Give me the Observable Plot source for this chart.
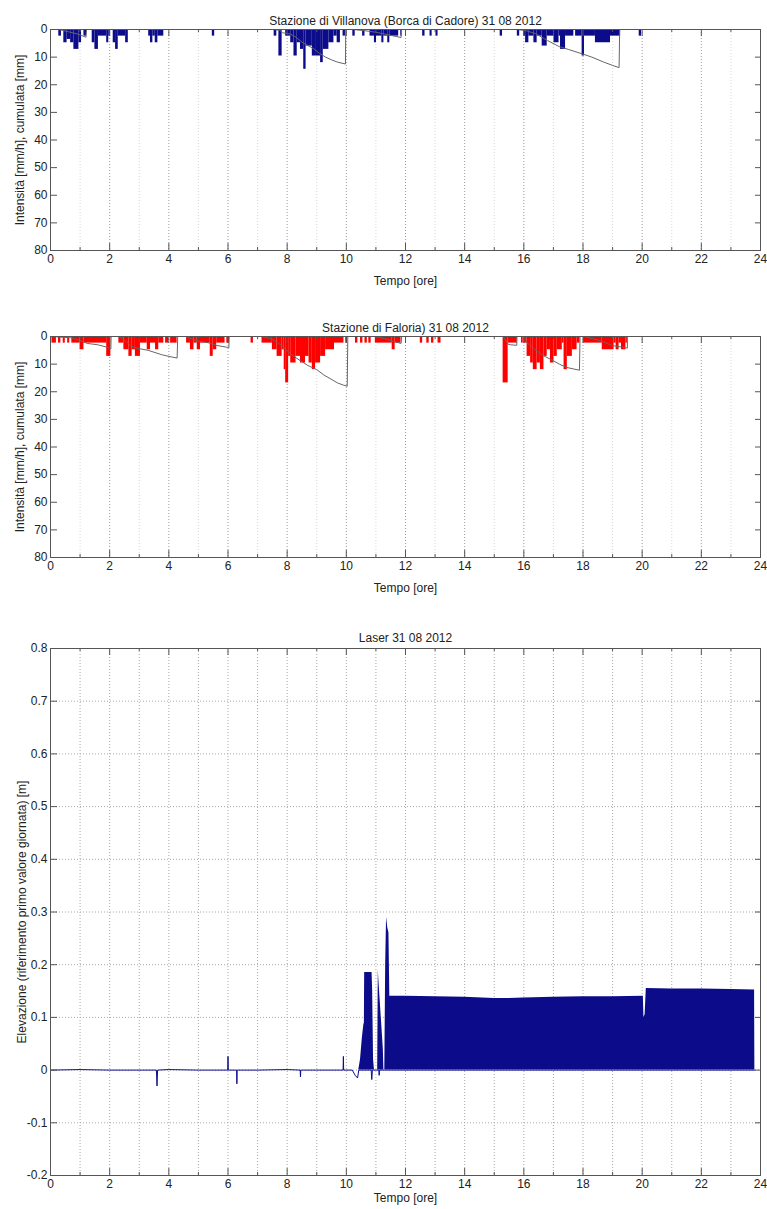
<!DOCTYPE html>
<html><head><meta charset="utf-8">
<script src="https://cdn.jsdelivr.net/npm/d3@7"></script>
<script src="https://cdn.jsdelivr.net/npm/@observablehq/plot@0.6"></script>
<style>
body{margin:0;background:#fff;}
#chart svg{display:block;}
</style></head><body><div id="chart"></div>
<script>
// ---------- tick arrays ----------
const hourTicks = [0,2,4,6,8,10,12,14,16,18,20,22,24];
const hourMinor = [1,3,5,7,9,11,13,15,17,19,21,23];
const rainTicks = [0,10,20,30,40,50,60,70,80];
const laserTicks = [-0.2,-0.1,0,0.1,0.2,0.3,0.4,0.5,0.6,0.7,0.8];
const laserTickLabels = ["-0.2","-0.1","0","0.1","0.2","0.3","0.4","0.5","0.6","0.7","0.8"];

// ---------- titles / labels ----------
const titles = ["Stazione di Villanova (Borca di Cadore) 31 08 2012", "Stazione di Faloria) 31 08 2012", "Laser 31 08 2012"];
const xLabel = "Tempo [ore]";
const rainLabel = "Intensità [mm/h], cumulata [mm]";
const laserLabel = "Elevazione (riferimento primo valore giornata) [m]";

// ---------- Villanova bars: [start h, end h, mm/h] ----------
const villanovaBars = [
 [0.28,0.37,2.4],[0.45,0.56,4.8],[0.56,0.68,3.6],[0.68,0.79,4.8],[0.79,0.96,7.2],[0.96,1.05,4.8],[1.13,1.22,2.4],
 [1.41,1.5,4.8],[1.5,1.62,7.2],[1.62,1.9,2.4],[1.9,1.97,4.8],[1.97,2.03,2.4],
 [2.12,2.2,4.8],[2.2,2.29,7.2],[2.29,2.54,2.4],[2.54,2.63,4.8],
 [3.32,3.38,2.4],[3.38,3.46,4.8],[3.46,3.54,2.4],[3.54,3.63,4.8],[3.63,3.83,2.4],
 [5.47,5.55,2.4],
 [7.56,7.65,2.4],[7.72,7.83,9.6],[7.95,8.12,2.4],[8.12,8.23,4.8],[8.23,8.34,9.6],[8.34,8.45,4.8],[8.45,8.56,7.2],
 [8.56,8.64,14.4],[8.64,8.85,6],[8.85,8.96,9.6],[8.96,9.13,9.6],[9.13,9.22,12],[9.22,9.41,7.2],[9.41,9.58,4.8],
 [9.58,9.69,2.4],[9.69,9.8,4.8],[9.89,9.97,2.4],
 [10.22,10.3,2.4],[10.55,10.63,2.4],[10.8,10.95,2.4],[10.95,11.02,4.8],[11.02,11.2,2.4],[11.2,11.27,4.8],
 [11.27,11.4,2.4],[11.4,11.47,4.8],[11.47,11.77,2.4],[11.84,11.88,2.4],
 [12.58,12.66,2.4],[12.83,12.9,2.4],[13.03,13.1,2.4],[15.2,15.28,2.4],
 [15.78,15.86,2.4],[16.0,16.06,2.4],[16.06,16.17,4.8],[16.17,16.34,2.4],[16.34,16.45,4.8],[16.45,16.62,2.4],
 [16.62,16.79,6],[16.79,17.02,2.4],[17.02,17.19,4.8],[17.19,17.24,2.4],[17.24,17.41,7.2],[17.41,17.69,2.4],
 [17.75,17.97,2.4],[17.97,18.05,9.6],[18.05,18.42,2.4],[18.42,18.93,4.8],[18.93,19.27,2.4],
 [19.9,19.98,2.4]
];
// Villanova cumulative rain per event: [h, mm]
const villanovaCumA = [[0.28,0],[0.6,0.8],[0.9,1.6],[1.2,2.8],[1.22,0]];
const villanovaCumE = [[7.55,0],[7.75,0.3],[7.85,1.2],[8.1,1.6],[8.3,2.8],[8.5,4.6],[8.7,5.8],[8.9,7],[9.1,8.7],[9.3,10],[9.5,11],[9.7,11.8],[9.97,12.5],[9.98,0]];
const villanovaCumF = [[10.2,0],[10.6,0.4],[11.0,1.0],[11.4,1.9],[11.85,2.9],[11.87,0]];
const villanovaCumG = [[15.78,0],[16.1,0.5],[16.4,1.5],[16.8,4],[17.2,6.2],[17.5,7.2],[17.97,8.8],[18.3,10],[18.7,11.8],[19.0,13],[19.22,13.8],[19.24,0]];

// ---------- Faloria bars ----------
const faloriaBars = [
 [0.05,0.2,2.4],[0.27,0.35,2.4],[0.43,0.5,2.4],[0.58,0.65,2.4],[0.72,1.0,2.4],[1.0,1.13,4.8],[1.13,1.9,2.4],[1.9,2.04,7.2],
 [2.31,2.48,2.4],[2.48,2.65,4.8],[2.65,2.76,7.2],[2.76,2.87,4.8],[2.87,3.04,7.2],[3.04,3.27,2.4],[3.27,3.38,4.8],
 [3.38,3.55,2.4],[3.55,3.66,4.8],[3.66,3.83,2.4],[3.89,4.0,2.4],[4.06,4.28,2.4],
 [4.6,4.73,2.4],[4.73,4.85,4.8],[4.85,4.96,2.4],[4.96,5.07,4.8],[5.07,5.4,2.4],[5.4,5.5,7.2],[5.5,5.62,4.8],[5.62,5.9,2.4],[5.96,6.05,2.4],
 [6.78,6.86,2.4],
 [7.15,7.5,2.4],[7.5,7.66,4.8],[7.66,7.83,7.2],[7.83,7.9,4.8],[7.9,7.95,12],[7.95,8.05,16.8],[8.05,8.12,7.2],[8.12,8.3,9.6],
 [8.3,8.45,7.2],[8.45,8.62,9.6],[8.62,8.74,7.2],[8.74,8.85,9.6],[8.85,8.96,12],[8.96,9.13,9.6],[9.13,9.3,7.2],[9.3,9.6,4.8],
 [9.6,9.92,2.4],[9.98,10.04,2.4],
 [10.31,10.39,2.4],[10.48,10.56,2.4],[10.63,10.71,2.4],[10.76,10.84,2.4],
 [10.98,11.55,2.4],[11.55,11.65,4.8],[11.65,11.85,2.4],
 [12.5,12.58,2.4],[12.72,12.8,2.4],[12.88,12.96,2.4],[13.1,13.2,2.4],
 [15.3,15.47,16.8],[15.47,15.78,2.4],[15.92,15.98,2.4],
 [16.0,16.11,2.4],[16.11,16.23,7.2],[16.23,16.32,9.6],[16.32,16.45,12],[16.45,16.56,9.6],[16.56,16.68,12],[16.68,16.79,7.2],
 [16.79,16.9,4.8],[16.9,17.02,9.6],[17.02,17.13,7.2],[17.13,17.3,4.8],[17.3,17.36,2.4],[17.36,17.47,12],[17.47,17.64,7.2],
 [17.64,17.8,4.8],[17.8,17.9,2.4],
 [18.02,18.65,2.4],[18.65,19.05,4.8],[19.05,19.12,2.4],[19.12,19.22,4.8],[19.22,19.3,2.4],[19.3,19.45,4.8],[19.45,19.5,2.4]
];
const faloriaCum1 = [[0.05,0],[0.4,0.3],[0.73,0.5],[1.0,1.5],[1.24,2.5],[1.6,3],[1.92,3.9],[2.04,4.5],[2.05,0]];
const faloriaCum2 = [[2.3,0],[2.5,1.2],[2.7,3.3],[2.9,4.2],[3.3,5],[3.76,6.6],[4.0,7.2],[4.28,7.8],[4.3,0]];
const faloriaCum3 = [[4.56,0],[4.96,1.6],[5.4,2.4],[5.6,3.2],[5.97,3.9],[6.03,4.1],[6.04,0]];
const faloriaCum4 = [[7.15,0],[7.5,1],[7.67,2.2],[7.85,3.5],[8.0,5.2],[8.2,7],[8.45,8.8],[8.7,10.5],[9.0,12],[9.25,14],[9.48,15.4],[9.7,16.8],[9.9,17.6],[10.03,18],[10.05,0]];
const faloriaCum5 = [[10.98,0],[11.3,0.8],[11.6,1.8],[11.85,2.5],[11.87,0]];
const faloriaCum6 = [[15.3,0],[15.47,2.8],[15.55,3],[15.76,3.2],[15.77,0]];
const faloriaCum7 = [[16.0,0],[16.1,2.2],[16.3,4],[16.5,5.8],[16.67,7],[17.0,8.8],[17.2,10],[17.45,11.2],[17.7,11.8],[17.88,12.2],[17.9,0]];
const faloriaCum8 = [[18.02,0],[18.4,1],[18.7,2],[19.0,3.3],[19.3,3.8],[19.45,4.1],[19.5,4.2],[19.5,0]];

// ---------- Laser ----------
const laserTop = [
 [10.42,0],[10.48,0.02],[10.54,0.06],[10.59,0.085],[10.61,0.09],[10.62,0.185],[10.87,0.185],[10.89,0.15],[10.92,0.02],[10.95,0],
 [11.06,0],[11.08,0.19],[11.1,0.17],[11.25,0.04],[11.27,0],[11.3,0],[11.33,0.2],[11.36,0.29],[11.4,0.27],[11.44,0.26],[11.47,0.14],
 [12,0.14],[13,0.139],[14,0.138],[15,0.136],[15.5,0.136],[16,0.137],[17,0.138],[18,0.139],[19,0.139],[20.04,0.14],[20.06,0.1],
 [20.1,0.105],[20.14,0.155],[21,0.154],[22,0.154],[23,0.153],[23.8,0.152],[23.81,0]
];
const laserTrace = [
 [0,0],[1,0.001],[2,0],[3.58,0],[3.6,-0.03],[3.62,0],[4,0.001],[5,0],[5.99,0],[6.0,0.026],[6.01,0],[6.29,0],[6.3,-0.026],[6.31,0],
 [7,0],[8,0.001],[8.44,0],[8.45,-0.013],[8.46,0],[9,0],[9.89,0],[9.9,0.026],[9.91,0],[10.2,0],[10.3,-0.01],[10.38,-0.015],[10.42,0],
 [10.84,0],[10.86,-0.018],[10.88,0],[11.1,0],[11.11,-0.01],[11.12,0],[23.81,0]
];

// ---------- drawing ----------
const W = 767, ML = 50, MR = 7;
const innerW = W - ML - MR;
const axisColor = "#555";
const font = "'Liberation Sans', Arial, Helvetica, sans-serif";
const navy = "#0c0c8a";
const fs = "12px";

function frameTicks(innerH, yTicks) {
  return [
    Plot.tickX(hourTicks, {x: d => d, insetTop: innerH - 7, stroke: axisColor}),
    Plot.tickX(hourMinor, {x: d => d, insetTop: innerH - 3, stroke: axisColor}),
    Plot.tickX(hourTicks, {x: d => d, insetBottom: innerH - 7, stroke: axisColor}),
    Plot.tickX(hourMinor, {x: d => d, insetBottom: innerH - 3, stroke: axisColor}),
    Plot.tickY(yTicks, {y: d => d, insetRight: innerW - 7, stroke: axisColor}),
    Plot.tickY(yTicks, {y: d => d, insetLeft: innerW - 5, stroke: axisColor}),
    Plot.frame({stroke: axisColor, strokeWidth: 1})
  ];
}

function rainPanel({bars, cumul, color, title, marginTop, marginBottom, height, titleDy}) {
  const innerH = height - marginTop - marginBottom;
  return Plot.plot({
    width: W, height, marginLeft: ML, marginRight: MR, marginTop, marginBottom,
    x: {domain: [0, 24]},
    y: {domain: [0, 80], reverse: true},
    style: {fontFamily: font, fontSize: fs, color: "#222", background: "#fff"},
    marks: [
      Plot.ruleX(hourMinor, {x: d => d, stroke: "#d8d8d8", strokeDasharray: "1,2"}),
      Plot.ruleX(hourTicks.slice(1, -1), {x: d => d, stroke: "#9a9a9a", strokeDasharray: "1,2"}),
      Plot.rect(bars, {x1: d => d[0], x2: d => d[1], y1: 0, y2: d => d[2], fill: color}),
      ...cumul.map(seg => Plot.line(seg, {x: d => d[0], y: d => d[1], stroke: "#666", strokeWidth: 1})),
      ...frameTicks(innerH, rainTicks),
      Plot.axisX({ticks: hourTicks, tickSize: 0, tickPadding: 4, label: null, fill: "#222"}),
      Plot.axisY({ticks: rainTicks, tickSize: 0, tickPadding: 3, label: null, fill: "#222"}),
      Plot.text([xLabel], {text: d => d, frameAnchor: "bottom", dy: 34, fill: "#222"}),
      Plot.text([rainLabel], {text: d => d, frameAnchor: "left", textAnchor: "middle", dx: -30, rotate: -90, fill: "#222"}),
      Plot.text([title], {text: d => d, frameAnchor: "top", textAnchor: "middle", dy: titleDy, fill: "#222"})
    ]
  });
}

const chart = document.getElementById("chart");

chart.append(rainPanel({bars: villanovaBars, cumul: [villanovaCumA, villanovaCumE, villanovaCumF, villanovaCumG],
  color: navy, title: titles[0], marginTop: 29, marginBottom: 40, height: 290, titleDy: -13}));

chart.append(rainPanel({bars: faloriaBars, cumul: [faloriaCum1, faloriaCum2, faloriaCum3, faloriaCum4, faloriaCum5, faloriaCum6, faloriaCum7, faloriaCum8],
  color: "#ff0000", title: titles[1], marginTop: 46, marginBottom: 43, height: 310, titleDy: -13}));

const lH = 609, lMT = 48, lMB = 34;
chart.append(Plot.plot({
  width: W, height: lH, marginLeft: ML, marginRight: MR, marginTop: lMT, marginBottom: lMB,
  x: {domain: [0, 24]},
  y: {domain: [-0.2, 0.8]},
  style: {fontFamily: font, fontSize: fs, color: "#222", background: "#fff"},
  marks: [
    Plot.ruleX([...hourMinor, ...hourTicks.slice(1, -1)], {x: d => d, stroke: "#a8a8a8", strokeDasharray: "1,2"}),
    Plot.ruleY(laserTicks.slice(1, -1), {y: d => d, stroke: "#a8a8a8", strokeDasharray: "1,2"}),
    Plot.areaY(laserTop, {x: d => d[0], y1: 0, y2: d => d[1], fill: navy}),
    Plot.line(laserTrace, {x: d => d[0], y: d => d[1], stroke: navy, strokeWidth: 1}),
    ...frameTicks(lH - lMT - lMB, laserTicks),
    Plot.axisX({ticks: hourTicks, tickSize: 0, tickPadding: 4, label: null, fill: "#222"}),
    Plot.axisY({ticks: laserTicks, tickSize: 0, tickPadding: 3, label: null, fill: "#222",
      tickFormat: d => laserTickLabels[laserTicks.indexOf(d)]}),
    Plot.text([xLabel], {text: d => d, frameAnchor: "bottom", dy: 26, fill: "#222"}),
    Plot.text([laserLabel], {text: d => d, frameAnchor: "left", textAnchor: "middle", dx: -28, rotate: -90, fill: "#222"}),
    Plot.text([titles[2]], {text: d => d, frameAnchor: "top", textAnchor: "middle", dy: -15, fill: "#222"})
  ]
}));
</script></body></html>
